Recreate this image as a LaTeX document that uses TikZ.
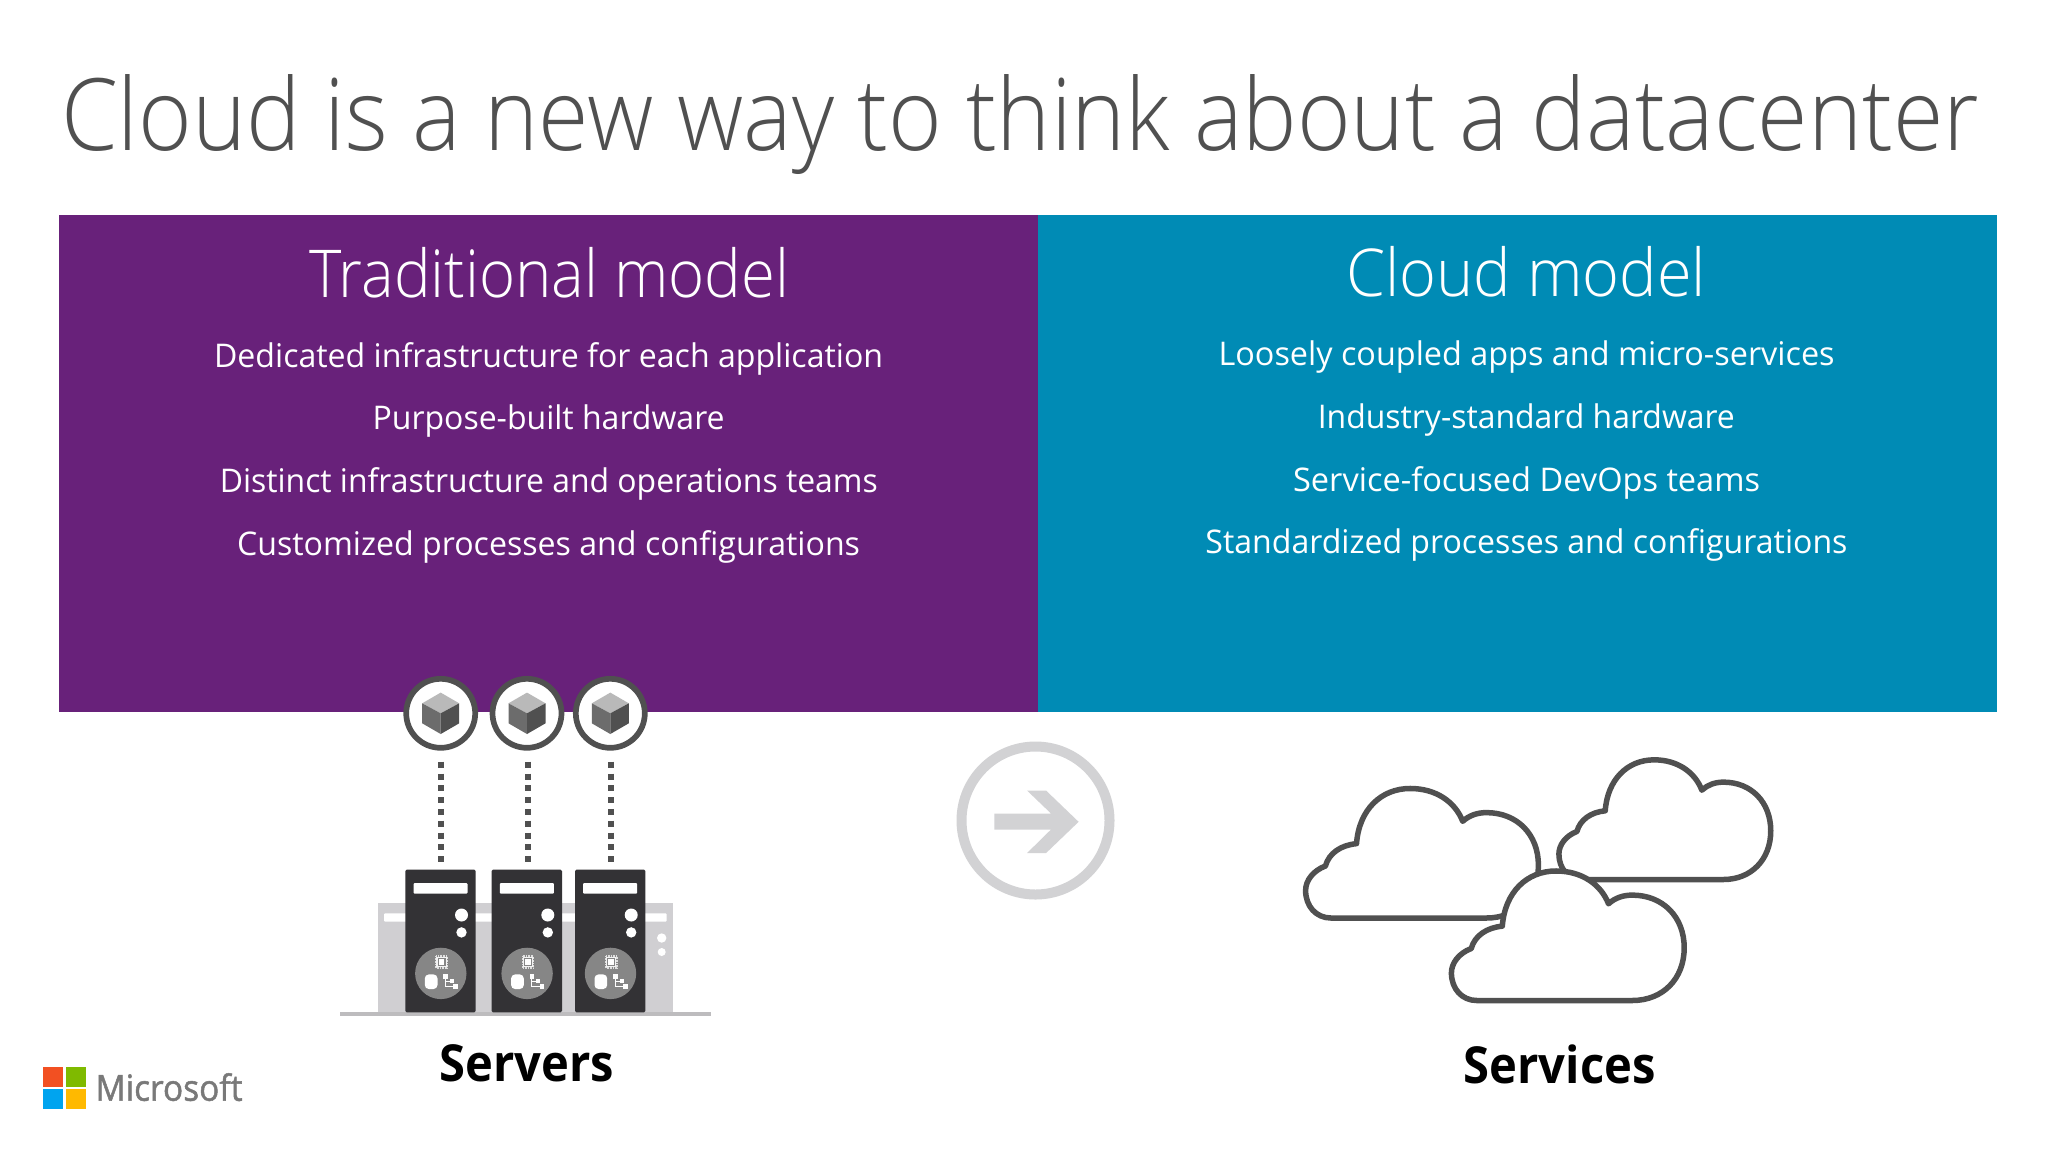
\documentclass[tikz,border=0pt]{standalone}
\usepackage{fontspec}
\usepackage{graphicx}
\setmainfont{Open Sans}
\newfontfamily\lightf{Open Sans Light}
\newfontfamily\semif[FakeBold=1.4]{Open Sans}
\definecolor{purplepanel}{HTML}{68217A}
\definecolor{bluepanel}{HTML}{008BB5}
\definecolor{darkgray}{HTML}{505050}
\definecolor{serverdark}{HTML}{333235}
\definecolor{lightsrv}{HTML}{D0CFD2}
\definecolor{ringgray}{HTML}{D2D2D4}
\definecolor{msred}{HTML}{F25022}
\definecolor{msgreen}{HTML}{7FBA00}
\definecolor{msblue}{HTML}{00A4EF}
\definecolor{msyellow}{HTML}{FFB900}
\newsavebox\fitbox
\newcommand\fitw[2]{\sbox\fitbox{#2}\pgfmathsetmacro\fitr{(#1*0.5)/(\the\wd\fitbox)}\scalebox{\fitr}[1]{\usebox\fitbox}}
\tikzset{
  label text/.style={anchor=base,inner sep=0pt,outer sep=0pt},
  title text/.style={label text,text=darkgray,font=\lightf\fontsize{50}{60}\selectfont},
  head text/.style={label text,text=white,font=\lightf\fontsize{33}{39}\selectfont},
  body text/.style={label text,text=white,font=\fontsize{16.3}{19}\selectfont},
  bold text/.style={label text,text=black,font=\bfseries\fontsize{25.5}{31}\selectfont},
  serverbox/.style={fill=serverdark,minimum width=35.2pt,minimum height=71.3pt,inner sep=0pt,outer sep=0pt,rounded corners=0.7pt},
  cubering/.style={circle,draw=darkgray,fill=white,line width=2.85pt,minimum size=34.5pt,inner sep=0pt,outer sep=0pt},
  dotline/.style={draw=darkgray,line width=3pt,dash pattern=on 3pt off 2.9pt,shorten <=6.95pt,shorten >=3.8pt},
  cloudline/.style={draw=darkgray,fill=white,line width=2.75pt,line join=round},
}
\newcommand\cloudpath{(0,0) .. controls (-15,0) and (-25.4,-12) .. (-25.4,-28)
  .. controls (-25.4,-38) and (-18,-48) .. (-5.6,-52.8)
  .. controls (-2,-66) and (10,-74) .. (25.5,-75.5)
  .. controls (28,-110) and (50,-131.5) .. (79.2,-131.5)
  .. controls (105,-131.5) and (124,-118) .. (131.7,-98.2)
  .. controls (138,-104) and (146,-107) .. (155.4,-107)
  .. controls (186,-107) and (207.4,-85) .. (207.4,-53.5)
  .. controls (207.4,-22) and (186,0) .. (155.4,0) -- cycle}
\begin{document}
\begin{tikzpicture}[x=0.5pt,y=-0.5pt]
\path[use as bounding box,fill=white] (0,0) rectangle (2048,1152);
% panels
\fill[purplepanel] (59,215.3) rectangle (1037.6,712);
\fill[bluepanel] (1037.6,215.3) rectangle (1997,712);
% texts
\node[title text] (title) at (1020,150) {\fitw{1918}{Cloud is a new way to think about a datacenter}};
\node[head text] (h1) at (549.3,297.7) {\fitw{480}{Traditional model}};
\node[head text] (h2) at (1526,296) {\fitw{360}{Cloud model}};
\node[body text] (l1) at (548.6,367) {\fitw{669}{Dedicated infrastructure for each application}};
\node[body text] (l2) at (548.6,429.7) {\fitw{352}{Purpose-built hardware}};
\node[body text] (l3) at (548.8,492.4) {\fitw{658}{Distinct infrastructure and operations teams}};
\node[body text] (l4) at (548.5,555) {\fitw{623}{Customized processes and configurations}};
\node[body text] (r1) at (1526.6,365.7) {\fitw{616}{Loosely coupled apps and micro-services}};
\node[body text] (r2) at (1526.3,428.4) {\fitw{417}{Industry-standard hardware}};
\node[body text] (r3) at (1526.6,491) {\fitw{467}{Service-focused DevOps teams}};
\node[body text] (r4) at (1526.4,553.8) {\fitw{642}{Standardized processes and configurations}};
\node[bold text] (servers) at (526.6,1081) {\fitw{174.5}{Servers}};
\node[bold text] (services) at (1559.6,1083) {\fitw{192}{Services}};
% back server
\fill[lightsrv] (378,903.3) rectangle (672.7,1012.3);
\fill[white,rounded corners=0.5pt] (384,913.3) rectangle (666.7,921.7);
\fill[white] (661.7,938) circle (2.35pt) (661.7,952) circle (2pt);
\fill[lightsrv!85!darkgray] (340,1012.3) rectangle (710.7,1016.3);
% servers
\foreach \i/\cx in {1/440.5,2/526.8,3/610.2}{
  \node[serverbox] (s\i) at (\cx,941) {};
  \begin{scope}[shift={(\cx,869.7)}]
    \fill[white,rounded corners=0.5pt] (-27,13.3) rectangle (27,24);
    \fill[white] (21,45.3) circle (3.25pt) (21,62.7) circle (2.6pt);
    \fill[gray!95!white] (0.3,103.7) circle (12.85pt);
    % chip
    \draw[white!75!gray,line width=0.8pt,dash pattern=on 0.4pt off 0.4pt] (-4.5,86.2) rectangle (6.5,98.2);
    \fill[white!90!gray] (-4.2,87) rectangle (6.2,97.4);
    \fill[gray!95!white] (-3,88.2) rectangle (5,96.2);
    \fill[white] (-1.8,89.4) rectangle (3.8,95);
    % database
    \fill[white,rounded corners=2pt] (-15.7,104.7) rectangle (-3,119.3);
    % network
    \draw[white,line width=0.6pt] (5,105) -- (5,116.5) -- (15,116.5) (5,111.7) -- (11.3,111.7);
    \fill[white] (2.7,104.7) rectangle (7.3,109.3);
    \fill[white] (9.3,109.7) rectangle (13.3,113.7);
    \fill[white] (12.7,114.3) rectangle (17.3,119);
  \end{scope}
}
% app circles, cubes and dotted connectors
\foreach \i/\cx/\dx in {1/440.7/441.3,2/527/527.7,3/610.3/611}{
  \node[cubering] (c\i) at (\cx,713.3) {};
  \coordinate (d\i) at (\dx,747.8);
  \coordinate (e\i) at (\dx,869.7);
  \draw[dotline] (d\i) -- (e\i);
  \begin{scope}[shift={(\cx,713.3)}]
    \fill[gray!55!white] (0,-20.7) -- (18.5,-10) -- (0,0) -- (-18.5,-10) -- cycle;
    \fill[gray!85!black] (-18.5,-10) -- (0,0) -- (0,20.7) -- (-18.5,10) -- cycle;
    \fill[darkgray] (18.5,-10) -- (0,0) -- (0,20.7) -- (18.5,10) -- cycle;
  \end{scope}
}
% arrow
\node[circle,draw=ringgray,fill=white,line width=5pt,minimum size=74pt,inner sep=0pt,outer sep=0pt] (ring) at (1035.5,820.5) {};
\begin{scope}[yshift=0.75pt]
\fill[ringgray] (994.4,815) -- (1051,815) -- (1027,792) -- (1046,792) -- (1078.6,823.3) -- (1046,854.6) -- (1027,854.6) -- (1051,831) -- (994.4,831) -- cycle;
\end{scope}
% clouds
\begin{scope}[shift={(1331,918)},yscale=0.985]
  \path[cloudline] \cloudpath;
\end{scope}
\begin{scope}[shift={(1582,879.5)},scale=0.91]
  \path[cloudline] \cloudpath;
\end{scope}
\begin{scope}[shift={(1476.8,1000.5)},yscale=0.985]
  \path[cloudline] \cloudpath;
\end{scope}
% logo
\fill[msred] (43.3,1066.7) rectangle (63.3,1086.7);
\fill[msgreen] (65.7,1066.7) rectangle (85.7,1086.7);
\fill[msblue] (43.3,1089.3) rectangle (63.3,1109.3);
\fill[msyellow] (65.7,1089.3) rectangle (85.7,1109.3);
\node[label text,text=gray!95!black,font=\semif\fontsize{18}{22}\selectfont] (ms) at (169,1100.7) {\fitw{147}{Microsoft}};
\end{tikzpicture}
\end{document}
